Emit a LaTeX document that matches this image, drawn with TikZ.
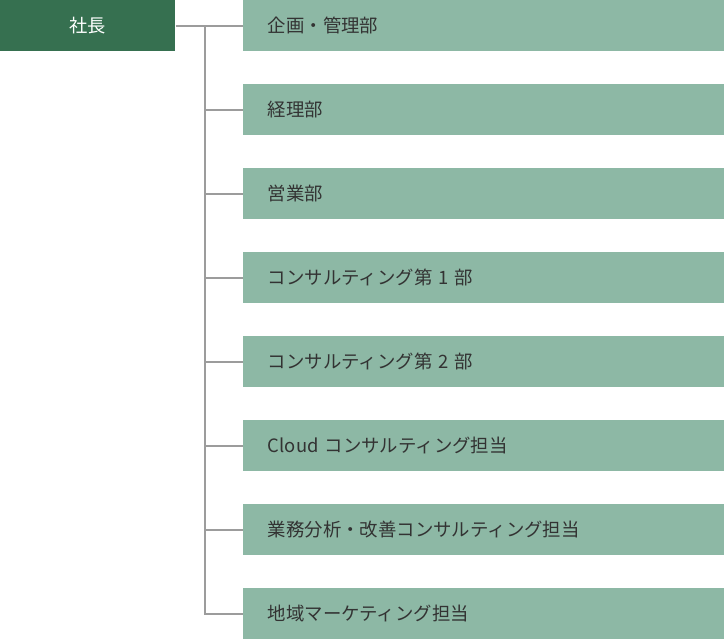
\documentclass[tikz,border=0pt]{standalone}
\usepackage{fontspec}
\setmainfont{Noto Sans CJK JP}
\begin{document}
\begin{tikzpicture}[x=0.75pt,y=-0.75pt,
  rootbox/.style={fill=rootgreen,text=white,minimum width=131.25pt,minimum height=38.25pt,inner sep=0pt,font=\fontsize{13.7pt}{16pt}\selectfont},
  deptbox/.style={fill=deptgreen,text=txtdark,minimum width=360.75pt,minimum height=38.25pt,inner sep=0pt,text width=323.75pt,align=left,font=\fontsize{13.8pt}{16pt}\selectfont},
  conn/.style={draw=linegray,line width=1.5pt}]
\definecolor{rootgreen}{HTML}{367050}
\definecolor{deptgreen}{HTML}{8DB8A5}
\definecolor{txtdark}{HTML}{333333}
\definecolor{linegray}{HTML}{9C9C9C}
\useasboundingbox (0,0) rectangle (724,640);
\node[rootbox,anchor=north west] (root) at (0,0) {社長};
\coordinate (trunk) at (205,25.5);
\foreach \i/\t in {0/企画・管理部,1/経理部,2/営業部,3/コンサルティング第 1 部,4/コンサルティング第 2 部,5/Cloud コンサルティング担当,6/業務分析・改善コンサルティング担当,7/地域マーケティング担当}{
  \node[deptbox,anchor=north west] (d\i) at (243,{\i*84}) {\t};
}
\draw[conn] (root.east) -- (d0.west);
\draw[conn] (trunk) |- (d7.west);
\foreach \i in {1,...,6}{
  \draw[conn] (trunk |- d\i.west) -- (d\i.west);
}
\end{tikzpicture}
\end{document}
